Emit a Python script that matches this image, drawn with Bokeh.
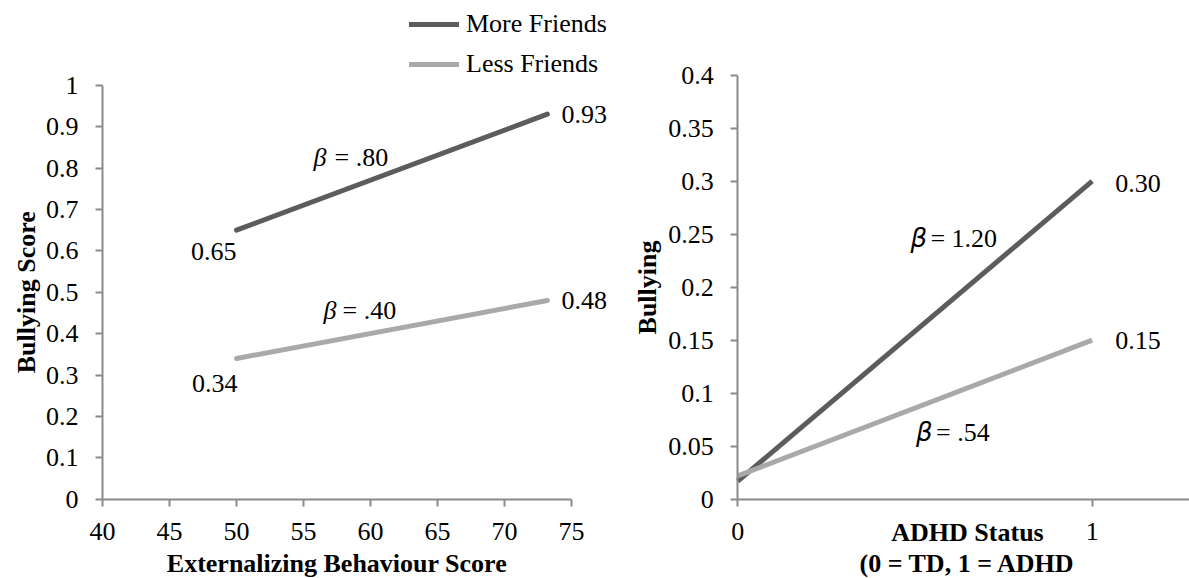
import math
from bokeh.plotting import figure
from bokeh.layouts import row
from bokeh.models import (FixedTicker, CustomJSTickFormatter, Label,
                          Legend, LegendItem, Range1d)
from bokeh.embed import file_html
from bokeh.resources import INLINE

# ---- data -------------------------------------------------------------
# Panel 1: bullying by externalizing behaviour score
ext_x = [50, 73.2]
ext_more = [0.65, 0.93]
ext_less = [0.34, 0.48]
ext_beta_more = ".80"
ext_beta_less = ".40"
ext_xticks = [40, 45, 50, 55, 60, 65, 70, 75]
ext_yticks = [0, 0.1, 0.2, 0.3, 0.4, 0.5, 0.6, 0.7, 0.8, 0.9, 1]

# Panel 2: bullying by ADHD status
adhd_x = [0, 1]
adhd_more = [0.017, 0.30]
adhd_less = [0.022, 0.15]
adhd_beta_more = "1.20"
adhd_beta_less = ".54"
adhd_xticks = [0, 1]
adhd_yticks = [0, 0.05, 0.1, 0.15, 0.2, 0.25, 0.3, 0.35, 0.4]

series_names = ["More Friends", "Less Friends"]

# ---- style ------------------------------------------------------------
SERIF = "Liberation Serif"
DARK = "#5c5c5c"
LIGHT = "#a9a9a9"
AXIS = "#8a8a8a"
FS = "26px"
LW = 5
H = 578

fmt = CustomJSTickFormatter(code="return String(tick)")


def make_panel(width, x0_px, x_scale, x_origin, y0_px, y_scale):
    """A figure whose plotting area fills the canvas; the data origin
    (x_origin, 0) sits at pixel (x0_px, y0_px) from the top-left."""
    xr = Range1d(x_origin - x0_px / x_scale, x_origin + (width - x0_px) / x_scale)
    yr = Range1d(-(H - y0_px) / y_scale, y0_px / y_scale)
    p = figure(width=width, height=H, output_backend="svg", toolbar_location=None,
               x_range=xr, y_range=yr, min_border=0,
               min_border_left=0, min_border_right=0,
               min_border_top=0, min_border_bottom=0)
    p.background_fill_color = None
    p.border_fill_color = None
    p.outline_line_color = None
    p.xgrid.visible = False
    p.ygrid.visible = False
    return p


def style_axes(p, xticks, yticks, x_cross, x_bounds, y_bounds):
    for ax in (p.xaxis[0], p.yaxis[0]):
        ax.axis_line_color = AXIS
        ax.axis_line_width = 2
        ax.major_tick_line_color = AXIS
        ax.major_tick_line_width = 2
        ax.major_tick_in = 0
        ax.major_tick_out = 7
        ax.minor_tick_line_color = None
        ax.major_label_text_font = SERIF
        ax.major_label_text_font_size = FS
        ax.major_label_text_color = "black"
        ax.formatter = fmt
    p.xaxis[0].ticker = FixedTicker(ticks=xticks)
    p.yaxis[0].ticker = FixedTicker(ticks=yticks)
    p.xaxis[0].fixed_location = 0
    p.yaxis[0].fixed_location = x_cross
    p.xaxis[0].bounds = x_bounds
    p.yaxis[0].bounds = y_bounds
    p.xaxis[0].major_label_standoff = 17
    p.yaxis[0].major_label_standoff = 17


def text(p, x, y, s, align="left", dx=0, dy=0, font=SERIF, style="normal"):
    p.add_layout(Label(x=x, y=y, x_offset=dx, y_offset=dy, text=s,
                       text_align=align, text_baseline="middle",
                       text_font=font, text_font_style=style,
                       text_font_size=FS, text_color="black"))


def value_labels(p, xs, ys, align, dx, dy):
    for x, y in zip(xs, ys):
        text(p, x, y, f"{y:.2f}", align=align, dx=dx, dy=dy)


def beta_label(p, x, y, coef, gap, sans_beta=False):
    text(p, x, y, "\u03b2", font=("DejaVu Sans" if sans_beta else SERIF),
         style="italic")
    text(p, x, y, f"= {coef}", dx=gap)


def title(p, s, sx, sy, angle=0.0):
    p.add_layout(Label(x=sx, y=sy, x_units="screen", y_units="screen",
                       text=s, angle=angle, text_align="center",
                       text_baseline="middle", text_font=SERIF,
                       text_font_style="bold", text_font_size=FS,
                       text_color="black"))


# ---- left panel -------------------------------------------------------
W1 = 625
p1 = make_panel(W1, x0_px=102, x_scale=13.4, x_origin=40, y0_px=498.7, y_scale=414)
style_axes(p1, ext_xticks, ext_yticks, x_cross=40, x_bounds=(40, 75), y_bounds=(0, 1))

r_more = p1.line(ext_x, ext_more, line_color=DARK, line_width=LW, line_cap="round")
r_less = p1.line(ext_x, ext_less, line_color=LIGHT, line_width=LW, line_cap="round")

value_labels(p1, ext_x[:1], ext_more[:1], "right", 0, -21)
value_labels(p1, ext_x[1:], ext_more[1:], "left", 14, 0)
value_labels(p1, ext_x[:1], ext_less[:1], "right", 1, -25)
value_labels(p1, ext_x[1:], ext_less[1:], "left", 14, 0)

beta_label(p1, 55.75, 0.826, ext_beta_more, gap=21)
beta_label(p1, 56.5, 0.456, ext_beta_less, gap=19)

title(p1, "Externalizing Behaviour Score", 336.5, H - 563)
title(p1, "Bullying Score", 26, H - 291.7, angle=math.pi / 2)

# legend block: two 30px rows, 10px apart, top edge 9px below the top
LEG_TOP, LEG_H = 9, 30 + 10 + 30
legend = Legend(items=[LegendItem(label=series_names[0], renderers=[r_more]),
                       LegendItem(label=series_names[1], renderers=[r_less])],
                location=(409, H - LEG_TOP - LEG_H), orientation="vertical",
                padding=0, margin=0, spacing=10,
                glyph_width=50, glyph_height=26, label_height=26,
                label_standoff=7, label_text_font=SERIF,
                label_text_font_size=FS, label_text_color="black",
                border_line_color=None, background_fill_alpha=0)
p1.add_layout(legend, "center")

# ---- right panel ------------------------------------------------------
W2 = 1189 - W1
p2 = make_panel(W2, x0_px=737.3 - W1, x_scale=354.4, x_origin=0, y0_px=498.7, y_scale=1060)
style_axes(p2, adhd_xticks, adhd_yticks, x_cross=0,
           x_bounds=(0, p2.x_range.end), y_bounds=(0, 0.4))

p2.line(adhd_x, adhd_more, line_color=DARK, line_width=LW)
p2.line(adhd_x, adhd_less, line_color=LIGHT, line_width=LW)

value_labels(p2, adhd_x[1:], adhd_more[1:], "left", 23, -2)
value_labels(p2, adhd_x[1:], adhd_less[1:], "left", 23, 0)

beta_label(p2, 0.487, 0.246, adhd_beta_more, gap=20, sans_beta=True)
beta_label(p2, 0.503, 0.063, adhd_beta_less, gap=20, sans_beta=True)

title(p2, "ADHD Status", 967 - W1, H - 531.7)
title(p2, "(0 = TD, 1 = ADHD", 967 - W1, H - 563.3)
title(p2, "Bullying", 647 - W1, H - 287, angle=math.pi / 2)

layout = row(p1, p2, spacing=0)
open("out.html", "w").write(file_html(layout, INLINE))
